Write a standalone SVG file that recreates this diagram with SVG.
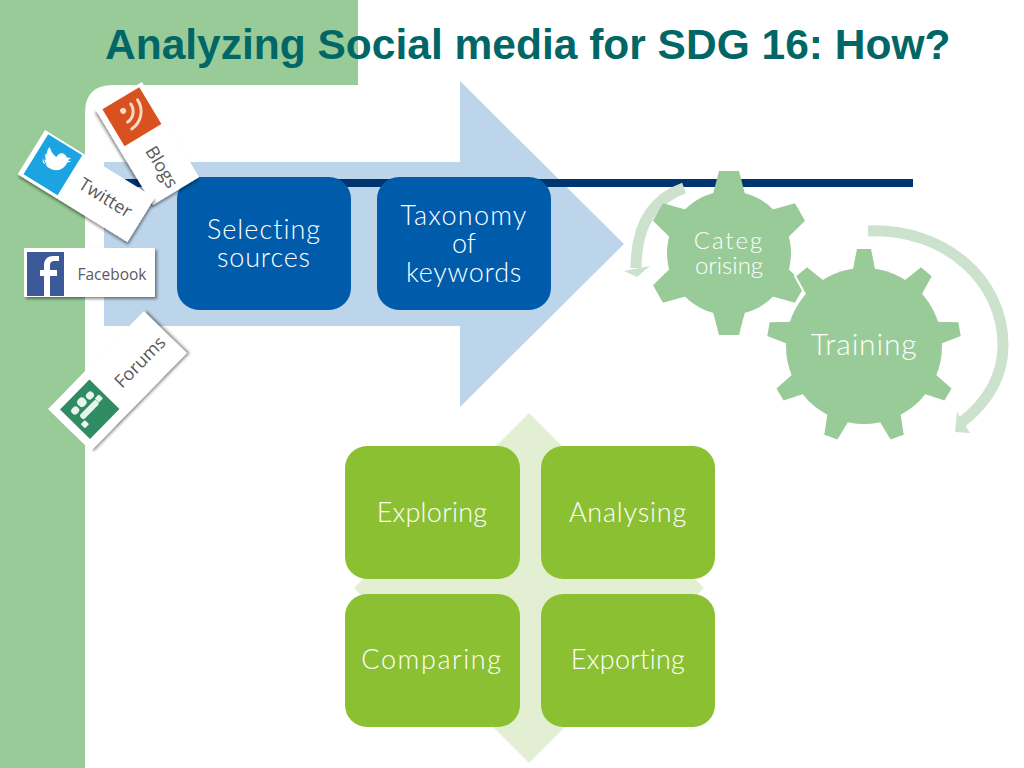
<svg xmlns="http://www.w3.org/2000/svg" xmlns:xlink="http://www.w3.org/1999/xlink" width="1024" height="768" viewBox="0 0 1024 768">
<style>
.t{font-family:"Lato","Open Sans",sans-serif;fill:#fff;text-anchor:middle;font-weight:300}
.c{font-family:"Open Sans","Liberation Sans",sans-serif;fill:#5a5a5a;text-anchor:middle;font-size:18px}
.blue{fill:#005bab}
.lime{fill:#8cc033}
.gear{fill:#99cb98}
.arc{fill:none;stroke:#cde2cd;stroke-width:11}
.head{fill:#cde2cd}
.card{fill:#fff;filter:url(#sh)}
</style>
<defs>
<filter id="sh" x="-20%" y="-20%" width="140%" height="140%"><feDropShadow dx="2" dy="2" stdDeviation="1.5" flood-color="#000" flood-opacity="0.45"/></filter>
<polygon id="t1" points="-10,-82 10,-82 17,-55 -17,-55"/>
<polygon id="t2" points="-7,-97 7,-97 12,-72 -12,-72"/>
<g id="smallgear">
<circle r="62"/><use xlink:href="#t1"/><use xlink:href="#t1" transform="rotate(60)"/><use xlink:href="#t1" transform="rotate(120)"/><use xlink:href="#t1" transform="rotate(180)"/><use xlink:href="#t1" transform="rotate(240)"/><use xlink:href="#t1" transform="rotate(300)"/>
</g>
<g id="biggear">
<circle r="78"/><use xlink:href="#t2"/><use xlink:href="#t2" transform="rotate(40)"/><use xlink:href="#t2" transform="rotate(80)"/><use xlink:href="#t2" transform="rotate(120)"/><use xlink:href="#t2" transform="rotate(160)"/><use xlink:href="#t2" transform="rotate(200)"/><use xlink:href="#t2" transform="rotate(240)"/><use xlink:href="#t2" transform="rotate(280)"/><use xlink:href="#t2" transform="rotate(320)"/>
</g>
</defs>
<rect width="1024" height="768" fill="#fff"/>
<path d="M0,0H358V85H113Q85,85 85,113V768H0Z" fill="#99cb98"/>
<text x="105" y="59" font-family="Liberation Sans,sans-serif" font-weight="700" font-size="42.5" fill="#006666">Analyzing Social media for SDG 16: How?</text>
<polygon id="bigarrow" points="104,162 460,162 460,81 624,244 460,407 460,326 104,326" fill="#bdd5ea"/>
<rect id="rule" x="125" y="179" width="788" height="8" fill="#003570"/>
<polygon id="diamond" points="529,413 704,588 529,763 354,588" fill="#e2efd3"/>
<g id="connectors">
<path class="arc" d="M684,188Q636,205 636,268"/>
<polygon class="head" points="624,271 650,266 637,277"/>
<path class="arc" d="M868,231C945,228 1003,280 1003,345C1003,375 990,400 962,422"/>
<polygon class="head" points="957,412 955,432 970,433"/>
</g>
<g id="selecting"><rect class="blue" x="177" y="177" width="174" height="133" rx="22"/><text class="t" font-size="27" x="264" y="239" letter-spacing="1">Selecting<tspan x="264" dy="28" letter-spacing="0.8">sources</tspan></text></g>
<g id="taxonomy"><rect class="blue" x="377" y="177" width="174" height="133" rx="22"/><text class="t" font-size="27" x="464" y="225" letter-spacing="1.2">Taxonomy<tspan x="464" dy="28" letter-spacing="0">of</tspan><tspan x="464" dy="29" letter-spacing="0.75">keywords</tspan></text></g>
<g id="categorising"><use xlink:href="#smallgear" class="gear" transform="translate(729,253)"/><text class="t" font-size="24" x="729" y="249" letter-spacing="2">Categ<tspan x="729" dy="25" letter-spacing="0">orising</tspan></text></g>
<g id="training"><use xlink:href="#biggear" transform="translate(864,346)" fill="#fff" stroke="#fff" stroke-width="4"/><use xlink:href="#biggear" class="gear" transform="translate(864,346)"/><text class="t" font-size="30" x="864" y="355" letter-spacing="0.8">Training</text></g>
<g id="exploring"><rect class="lime" x="345" y="446" width="175" height="133" rx="22"/><text class="t" font-size="27" x="432" y="522" letter-spacing="0.25">Exploring</text></g>
<g id="analysing"><rect class="lime" x="541" y="446" width="174" height="133" rx="22"/><text class="t" font-size="27" x="628" y="522" letter-spacing="0.8">Analysing</text></g>
<g id="comparing"><rect class="lime" x="345" y="594" width="175" height="133" rx="22"/><text class="t" font-size="27" x="432" y="669" letter-spacing="1.6">Comparing</text></g>
<g id="exporting"><rect class="lime" x="541" y="594" width="174" height="133" rx="22"/><text class="t" font-size="27" x="628" y="669" letter-spacing="0.3">Exporting</text></g>
<g id="blogs" transform="translate(142,82) rotate(59)"><rect class="card" width="111" height="54"/><rect x="3" y="5" width="43" height="43" fill="#d8511f"/>
<g fill="none" stroke="#f6d9c6" stroke-width="3" stroke-linecap="round"><path d="M13,21a13,13 0 0 1 14,12"/><path d="M13,13a21,21 0 0 1 22,20"/></g><circle cx="15" cy="31" r="3" fill="#f6d9c6"/>
<text class="c" x="83" y="33">Blogs</text></g>
<g id="twitter" transform="translate(45,130) rotate(31.7)"><rect class="card" width="129" height="52"/><rect x="5" y="2" width="40" height="47" fill="#1ca4e2"/>
<path d="M13,25C17,29 21,31 26,30C33,29 37,23 36,16L39,13L35,14L37,10L33,12C29,8 23,11 24,17C20,17 16,15 13,12C12,15 13,18 15,20L13,19C13,22 15,24 17,25L15,25C16,27 18,28 20,28C18,30 15,30 13,25Z" fill="#fff"/>
<text class="c" x="87" y="32">Twitter</text></g>
<g id="facebook"><rect class="card" x="24" y="248" width="131" height="49"/><rect x="27" y="252" width="37" height="44" fill="#3b5998"/>
<path d="M50,296V276H57V270H50V265C50,262 52,261 54,261H59V256H53C47,256 44,260 44,265V270H40V276H44V296Z" fill="#fff"/>
<text class="c" x="112" y="280" style="font-size:17px" textLength="69" lengthAdjust="spacingAndGlyphs">Facebook</text></g>
<g id="forums" transform="translate(48,409) rotate(-45.6)"><rect class="card" width="137" height="60"/><rect x="8" y="9" width="42" height="42" fill="#2e8b62"/>
<g fill="#e8f4ee"><rect x="14" y="17" width="8" height="7" rx="3"/><rect x="24" y="15" width="9" height="9" rx="4"/><rect x="35" y="17" width="8" height="7" rx="3"/><rect x="17" y="27" width="23" height="6" rx="2"/><rect x="12" y="34" width="6" height="6" rx="1"/><rect x="40" y="26" width="6" height="6" rx="1"/></g>
<text class="c" x="98" y="39">Forums</text></g>
</svg>
